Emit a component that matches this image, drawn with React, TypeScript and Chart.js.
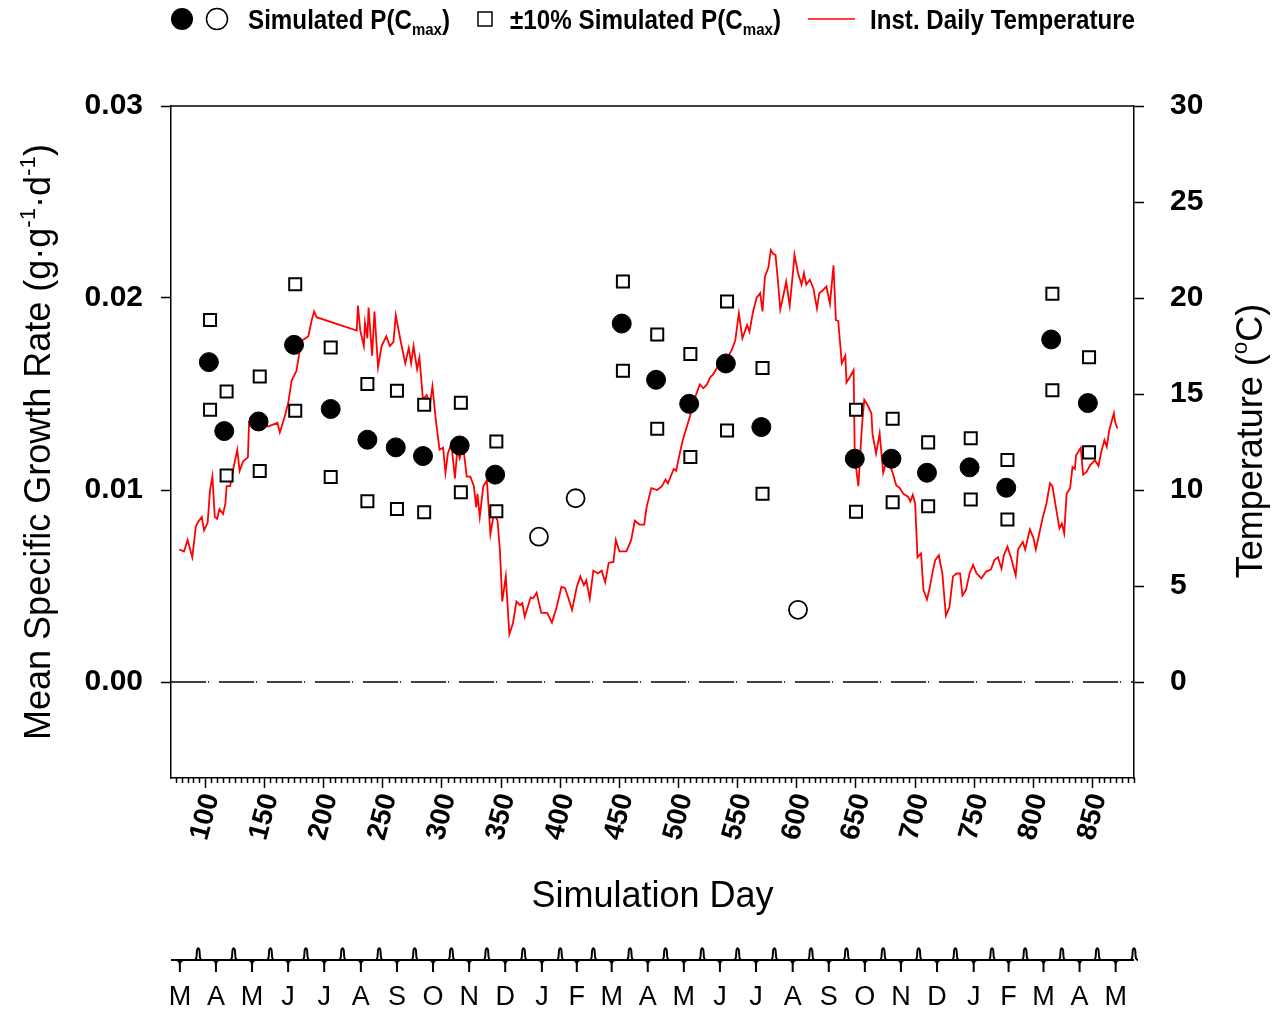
import React, { useEffect, useRef } from "react";
import { Chart, registerables } from "chart.js";

Chart.register(...registerables);

const FONT = '"Liberation Sans", Arial, Helvetica, sans-serif';
const LEGEND_FONT = '"Liberation Sans Narrow", "Liberation Sans", Arial, sans-serif';

// ---------- data ----------
const xMin = 71;
const xMax = 885;
const xTicks = [100, 150, 200, 250, 300, 350, 400, 450, 500, 550, 600, 650, 700, 750, 800, 850];
const yTicks = [0, 0.01, 0.02, 0.03];
const tempTicks = [0, 5, 10, 15, 20, 25, 30];

const tempDays = [
  78, 82, 85, 89, 92, 94, 97, 99, 102, 104,
  106, 108, 110, 112, 115, 117, 118, 121, 123, 127,
  129, 132, 136, 137, 144, 153, 161, 163, 167, 170,
  173, 177, 180, 182, 187, 190, 192, 194, 228, 229,
  231, 234, 235, 237, 238, 241, 243, 246, 249, 253,
  256, 259, 261, 265, 269, 272, 274, 276, 279, 281,
  284, 287, 290, 292, 295, 298, 301, 303, 305, 308,
  311, 313, 315, 318, 321, 324, 327, 329, 330, 332,
  335, 338, 341, 344, 347, 349, 351, 354, 357, 360,
  363, 366, 368, 370, 375, 377, 380, 384, 389, 393,
  397, 401, 404, 407, 410, 414, 417, 420, 422, 425,
  428, 432, 435, 438, 441, 445, 447, 450, 456, 460,
  463, 467, 471, 473, 477, 482, 486, 489, 491, 496,
  498, 501, 504, 507, 510, 512, 515, 518, 521, 524,
  527, 529, 532, 536, 541, 545, 548, 550, 551, 554,
  558, 560, 563, 566, 569, 571, 573, 576, 578, 580,
  582, 584, 586, 589, 591, 594, 597, 598, 601, 604,
  606, 608, 611, 614, 617, 619, 622, 625, 628, 631,
  633, 635, 638, 641, 642, 645, 648, 649, 652, 655,
  657, 660, 663, 664, 667, 670, 673, 676, 679, 681,
  684, 687, 690, 694, 696, 698, 700, 702, 705, 707,
  710, 712, 715, 717, 720, 723, 726, 729, 732, 735,
  738, 740, 743, 746, 749, 752, 756, 760, 764, 767,
  770, 773, 775, 778, 781, 785, 787, 791, 793, 797,
  800, 802, 805, 808, 811, 814, 816, 819, 822, 824,
  826, 828, 831, 833, 835, 836, 840, 842, 845, 848,
  852, 855, 857, 860, 862, 864, 868, 869, 871,
];
const tempValues = [
  6.9, 6.8, 7.4, 6.5, 8.1, 8.35, 8.6, 7.9, 8.3, 10.0,
  10.7, 8.6, 8.5, 9.0, 8.75, 9.3, 10.2, 10.2, 10.9, 12.1,
  11.0, 11.5, 11.7, 13.55, 13.55, 13.3, 13.5, 13.0, 13.8, 14.5,
  15.7, 16.2, 17.3, 17.8, 18.0, 18.85, 19.3, 19.0, 18.3, 19.6,
  18.3, 17.5, 18.7, 17.9, 19.5, 17.0, 19.3, 16.4, 17.5, 18.0,
  17.5, 17.7, 19.1, 17.8, 16.6, 17.4, 16.6, 17.5, 16.3, 16.9,
  14.7, 14.95, 14.5, 15.4, 13.55, 12.1, 12.2, 10.9, 11.9, 12.4,
  10.6, 12.1, 11.65, 12.25, 10.7, 10.7, 10.2, 9.1, 9.8, 8.6,
  10.2, 10.5, 7.7, 8.8, 8.4, 6.9, 4.2, 5.5, 2.5, 3.05,
  4.2, 4.0, 4.1, 3.4, 4.4, 4.35, 4.65, 3.6, 3.6, 3.1,
  3.9, 4.95, 4.9, 4.35, 3.75, 4.95, 5.5, 5.05, 5.3, 4.35,
  5.8, 5.65, 5.8, 5.2, 6.2, 6.25, 7.4, 6.8, 6.8, 7.4,
  8.4, 8.2, 8.2, 9.1, 10.1, 10.0, 10.2, 10.55, 10.35, 11.1,
  11.0, 11.9, 12.7, 13.3, 13.9, 14.5, 15.0, 15.5, 15.3, 15.5,
  15.9, 16.0, 16.3, 16.7, 16.85, 17.3, 17.8, 18.75, 19.2, 17.9,
  18.6, 18.25, 19.3, 20.0, 20.25, 19.3, 21.1, 21.6, 22.5, 22.3,
  22.25, 20.9, 19.4, 20.25, 20.85, 19.6, 21.5, 22.25, 21.3, 20.7,
  21.3, 20.7, 20.95, 20.5, 19.45, 20.25, 20.4, 20.6, 19.7, 21.7,
  18.85, 18.8, 16.6, 17.0, 15.6, 15.9, 16.25, 11.7, 10.2, 13.3,
  14.7, 14.4, 14.0, 12.9, 11.9, 12.95, 10.9, 11.55, 11.2, 10.9,
  10.25, 10.1, 9.8, 9.65, 9.4, 9.75, 9.3, 6.5, 6.7, 4.8,
  4.3, 4.8, 5.8, 6.35, 6.6, 5.65, 3.45, 3.9, 5.5, 5.65,
  5.65, 4.5, 4.8, 5.65, 6.1, 5.65, 5.4, 5.75, 5.85, 6.35,
  6.5, 5.9, 6.6, 7.05, 6.5, 5.55, 6.9, 7.3, 6.9, 7.95,
  7.5, 6.9, 7.75, 8.6, 9.3, 10.35, 10.2, 9.1, 8.0, 8.25,
  7.75, 9.8, 10.1, 11.2, 11.1, 11.8, 12.2, 10.8, 10.95, 11.3,
  11.55, 11.25, 11.9, 12.6, 12.25, 13.1, 14.0, 13.55, 13.2,
];

const simDays = [103, 116, 145, 175, 206, 237, 261, 284, 315, 345, 452, 481, 509, 540, 570, 649, 680, 710, 746, 777, 815, 846];
const simValues = [
  0.01666, 0.01307, 0.01357, 0.01756, 0.01422, 0.01262, 0.01222, 0.01177, 0.01232, 0.0108,
  0.01867, 0.01574, 0.01449, 0.01659, 0.01328, 0.01163, 0.01163, 0.0109, 0.01118, 0.01012,
  0.01784, 0.01453,
];
const openDays = [382, 413, 601];
const openValues = [0.00757, 0.00957, 0.00376];

const boundDays = [104, 118, 146, 176, 206, 237, 262, 285, 316, 346, 453, 482, 510, 541, 571, 650, 681, 711, 747, 778, 816, 847];
const upperValues = [
  0.01886, 0.01513, 0.01591, 0.02072, 0.01742, 0.01552, 0.01517, 0.01444, 0.01454, 0.01253,
  0.02086, 0.0181, 0.01708, 0.01982, 0.01635, 0.01418, 0.01371, 0.01248, 0.01269, 0.01156,
  0.02022, 0.01692,
];
const lowerValues = [
  0.01418, 0.01075, 0.01099, 0.01413, 0.01068, 0.00941, 0.00901, 0.00884, 0.00988, 0.00889,
  0.01621, 0.01319, 0.01172, 0.0131, 0.00981, 0.00887, 0.00936, 0.00915, 0.0095, 0.00846,
  0.01519, 0.01196,
];

const monthLabels = ["M", "A", "M", "J", "J", "A", "S", "O", "N", "D", "J", "F", "M", "A", "M", "J", "J", "A", "S", "O", "N", "D", "J", "F", "M", "A", "M"];
const monthLengths = [31, 30, 31, 30, 31, 31, 30, 31, 30, 31, 31, 28, 31, 30, 31, 30, 31, 31, 30, 31, 30, 31, 31, 28, 31, 30, 31];
const firstMonthStartDay = 63;

// ---------- text helpers ----------
type Run = { t: string; m?: "sup" | "sub" };

const leftTitleRuns: Run[] = [
  { t: "Mean Specific Growth Rate (g·g" },
  { t: "-1", m: "sup" },
  { t: "·d" },
  { t: "-1", m: "sup" },
  { t: ")" },
];
const rightTitleRuns: Run[] = [{ t: "Temperature (" }, { t: "o", m: "sup" }, { t: "C)" }];
const legendSimRuns: Run[] = [{ t: "Simulated P(C" }, { t: "max", m: "sub" }, { t: ")" }];
const legendBoundRuns: Run[] = [{ t: "±10% Simulated P(C" }, { t: "max", m: "sub" }, { t: ")" }];
const legendTempRuns: Run[] = [{ t: "Inst. Daily Temperature" }];

function runFont(r: Run, size: number, weight: string, family: string) {
  const s = r.m ? size * 0.62 : size;
  return `${weight} ${s}px ${family}`;
}

function measureRuns(ctx: CanvasRenderingContext2D, runs: Run[], size: number, weight: string, family: string) {
  let w = 0;
  for (const r of runs) {
    ctx.font = runFont(r, size, weight, family);
    w += ctx.measureText(r.t).width;
  }
  return w;
}

function drawRuns(
  ctx: CanvasRenderingContext2D,
  runs: Run[],
  x: number,
  y: number,
  o: { size: number; weight: string; family: string; angle?: number; align?: "center" | "left"; scaleX?: number }
) {
  const w = measureRuns(ctx, runs, o.size, o.weight, o.family);
  ctx.save();
  ctx.translate(x, y);
  if (o.angle) ctx.rotate(o.angle);
  ctx.scale(o.scaleX || 1, 1);
  let cx = o.align === "center" ? -w / 2 : 0;
  ctx.textAlign = "left";
  ctx.textBaseline = "alphabetic";
  ctx.fillStyle = "#000";
  for (const r of runs) {
    ctx.font = runFont(r, o.size, o.weight, o.family);
    const dy = r.m === "sup" ? -o.size * 0.42 : r.m === "sub" ? o.size * 0.22 : 0;
    ctx.fillText(r.t, cx, dy);
    cx += ctx.measureText(r.t).width;
  }
  ctx.restore();
}

function fittedScale(ctx: CanvasRenderingContext2D, runs: Run[], size: number, target: number) {
  const w = measureRuns(ctx, runs, size, "bold", LEGEND_FONT);
  const s = target / w;
  return Math.max(0.7, Math.min(1.3, s));
}

// ---------- custom drawing plugin ----------
const decorPlugin = {
  id: "decor",
  afterDraw(chart: any) {
    const ctx: CanvasRenderingContext2D = chart.ctx;
    const xs = chart.scales.x;
    const area = chart.chartArea;
    ctx.save();
    ctx.strokeStyle = "#000";
    ctx.lineWidth = 1.5;

    // top frame line
    ctx.beginPath();
    ctx.moveTo(area.left, area.top);
    ctx.lineTo(area.right, area.top);
    ctx.stroke();

    // minor x ticks every 5 days
    ctx.beginPath();
    for (let d = 75; d <= xMax; d += 5) {
      if (d % 50 === 0 && d >= 100 && d <= 850) continue;
      const px = Math.round(xs.getPixelForValue(d)) + 0.5;
      ctx.moveTo(px, area.bottom);
      ctx.lineTo(px, area.bottom + 5);
    }
    ctx.stroke();

    // axis titles
    drawRuns(ctx, leftTitleRuns, 50, 442, { size: 36, weight: "normal", family: FONT, angle: -Math.PI / 2, align: "center" });
    drawRuns(ctx, rightTitleRuns, 1262, 441, { size: 36, weight: "normal", family: FONT, angle: -Math.PI / 2, align: "center" });
    drawRuns(ctx, [{ t: "Simulation Day" }], (area.left + area.right) / 2, 907, { size: 36, weight: "normal", family: FONT, align: "center" });

    // legend
    const ly = 19;
    ctx.fillStyle = "#000";
    ctx.beginPath();
    ctx.arc(182, ly, 11, 0, Math.PI * 2);
    ctx.fill();
    ctx.lineWidth = 1.5;
    ctx.beginPath();
    ctx.arc(217, ly, 10.5, 0, Math.PI * 2);
    ctx.fillStyle = "#fff";
    ctx.fill();
    ctx.stroke();
    ctx.fillStyle = "#fff";
    ctx.fillRect(478, ly - 7, 14, 14);
    ctx.strokeRect(478, ly - 7, 14, 14);
    ctx.strokeStyle = "#ff0000";
    ctx.lineWidth = 1.5;
    ctx.beginPath();
    ctx.moveTo(808, ly);
    ctx.lineTo(855, ly);
    ctx.stroke();
    const lsize = 27;
    drawRuns(ctx, legendSimRuns, 248, 29, { size: lsize, weight: "bold", family: LEGEND_FONT, scaleX: fittedScale(ctx, legendSimRuns, lsize, 202) });
    drawRuns(ctx, legendBoundRuns, 510, 29, { size: lsize, weight: "bold", family: LEGEND_FONT, scaleX: fittedScale(ctx, legendBoundRuns, lsize, 271) });
    drawRuns(ctx, legendTempRuns, 870, 29, { size: lsize, weight: "bold", family: LEGEND_FONT, scaleX: fittedScale(ctx, legendTempRuns, lsize, 265) });

    // month axis
    const starts: number[] = [];
    let s = firstMonthStartDay;
    for (const len of monthLengths) {
      starts.push(s);
      s += len;
    }
    starts.push(s);
    const yA = 960;
    ctx.strokeStyle = "#000";
    ctx.lineWidth = 2;
    ctx.beginPath();
    ctx.moveTo(area.left, yA);
    ctx.lineTo(area.right, yA);
    ctx.stroke();
    for (let i = 1; i < starts.length; i++) {
      const px = xs.getPixelForValue(starts[i]);
      if (px < area.left || px > area.right + 1) continue;
      ctx.beginPath();
      ctx.moveTo(px - 4, yA);
      ctx.quadraticCurveTo(px - 1.5, yA, px - 1.5, yA - 6);
      ctx.lineTo(px - 1.2, yA - 10);
      ctx.quadraticCurveTo(px, yA - 13.5, px + 1.2, yA - 10);
      ctx.lineTo(px + 1.5, yA - 6);
      ctx.quadraticCurveTo(px + 1.5, yA, px + 4, yA);
      ctx.stroke();
    }
    ctx.fillStyle = "#000";
    ctx.font = `normal 27px ${FONT}`;
    ctx.textAlign = "center";
    ctx.textBaseline = "alphabetic";
    for (let i = 0; i < monthLabels.length; i++) {
      const mid = (starts[i] + starts[i + 1]) / 2;
      const px = xs.getPixelForValue(mid);
      ctx.beginPath();
      ctx.moveTo(px - 4, yA);
      ctx.quadraticCurveTo(px, yA, px, yA + 5);
      ctx.lineTo(px, yA + 12);
      ctx.moveTo(px + 4, yA);
      ctx.quadraticCurveTo(px, yA, px, yA + 5);
      ctx.stroke();
      ctx.fillText(monthLabels[i], px, 1005);
    }
    ctx.restore();
  },
};

export default function App() {
  const canvasRef = useRef<HTMLCanvasElement | null>(null);

  useEffect(() => {
    if (!canvasRef.current) return;
    Chart.defaults.font.family = FONT;
    Chart.defaults.color = "#000";

    const tickGrid = {
      display: true,
      drawOnChartArea: false,
      drawTicks: true,
      tickLength: 10,
      tickColor: "#000",
      tickWidth: 1.5,
    };
    const border = { display: true, color: "#000", width: 1.5 };

    const chart = new Chart(canvasRef.current, {
      type: "scatter",
      data: {
        datasets: [
          {
            label: "Simulated P(Cmax)",
            data: simDays.map((d, i) => ({ x: d, y: simValues[i] })),
            pointStyle: "circle",
            pointRadius: 9.5,
            backgroundColor: "#000",
            borderColor: "#000",
            borderWidth: 1,
            yAxisID: "y",
          },
          {
            label: "Simulated P(Cmax) open",
            data: openDays.map((d, i) => ({ x: d, y: openValues[i] })),
            pointStyle: "circle",
            pointRadius: 9,
            backgroundColor: "#fff",
            borderColor: "#000",
            borderWidth: 1.8,
            yAxisID: "y",
          },
          {
            label: "+10%",
            data: boundDays.map((d, i) => ({ x: d, y: upperValues[i] })),
            pointStyle: "rect",
            pointRadius: 8.5,
            backgroundColor: "#fff",
            borderColor: "#000",
            borderWidth: 2,
            yAxisID: "y",
          },
          {
            label: "-10%",
            data: boundDays.map((d, i) => ({ x: d, y: lowerValues[i] })),
            pointStyle: "rect",
            pointRadius: 8.5,
            backgroundColor: "#fff",
            borderColor: "#000",
            borderWidth: 2,
            yAxisID: "y",
          },
          {
            label: "Inst. Daily Temperature",
            data: tempDays.map((d, i) => ({ x: d, y: tempValues[i] })),
            showLine: true,
            pointRadius: 0,
            borderColor: "#ff0000",
            borderWidth: 1.8,
            tension: 0,
            yAxisID: "y1",
          },
          {
            label: "zero",
            data: [
              { x: xMin, y: 0 },
              { x: xMax, y: 0 },
            ],
            showLine: true,
            pointRadius: 0,
            borderColor: "#000",
            borderWidth: 1.5,
            borderDash: [35, 2, 1, 10],
            yAxisID: "y",
          },
        ],
      },
      options: {
        responsive: false,
        animation: false,
        devicePixelRatio: 1,
        layout: { padding: { top: 106, left: 0, right: 0, bottom: 0 } },
        plugins: { legend: { display: false }, tooltip: { enabled: false } },
        scales: {
          x: {
            type: "linear",
            position: "bottom",
            min: xMin,
            max: xMax,
            afterBuildTicks: (sc: any) => {
              sc.ticks = xTicks.map((v) => ({ value: v }));
            },
            afterFit: (sc: any) => {
              sc.height = 233;
            },
            grid: tickGrid,
            border,
            ticks: {
              autoSkip: false,
              minRotation: 75,
              maxRotation: 75,
              labelOffset: 6,
              padding: 2,
              color: "#000",
              font: { size: 28, weight: "bold", family: FONT },
              callback: (v: any) => String(v),
            },
          },
          y: {
            type: "linear",
            position: "left",
            min: -0.005,
            max: 0.03,
            afterBuildTicks: (sc: any) => {
              sc.ticks = yTicks.map((v) => ({ value: v }));
            },
            afterFit: (sc: any) => {
              sc.width = 171;
            },
            grid: tickGrid,
            border,
            ticks: {
              padding: 18,
              color: "#000",
              font: { size: 30, weight: "bold", family: FONT },
              callback: (v: any) => Number(v).toFixed(2),
            },
          },
          y1: {
            type: "linear",
            position: "right",
            min: -5,
            max: 30,
            afterBuildTicks: (sc: any) => {
              sc.ticks = tempTicks.map((v) => ({ value: v }));
            },
            afterFit: (sc: any) => {
              sc.width = 139;
            },
            grid: tickGrid,
            border,
            ticks: {
              padding: 26,
              color: "#000",
              font: { size: 30, weight: "bold", family: FONT },
              callback: (v: any) => String(v),
            },
          },
        },
      } as any,
      plugins: [decorPlugin],
    });

    return () => {
      chart.destroy();
    };
  }, []);

  return (
    <div style={{ position: "fixed", left: 0, top: 0, width: 1273, height: 1011, background: "#fff" }}>
      <canvas ref={canvasRef} width={1273} height={1011} style={{ display: "block", width: 1273, height: 1011 }} />
    </div>
  );
}
